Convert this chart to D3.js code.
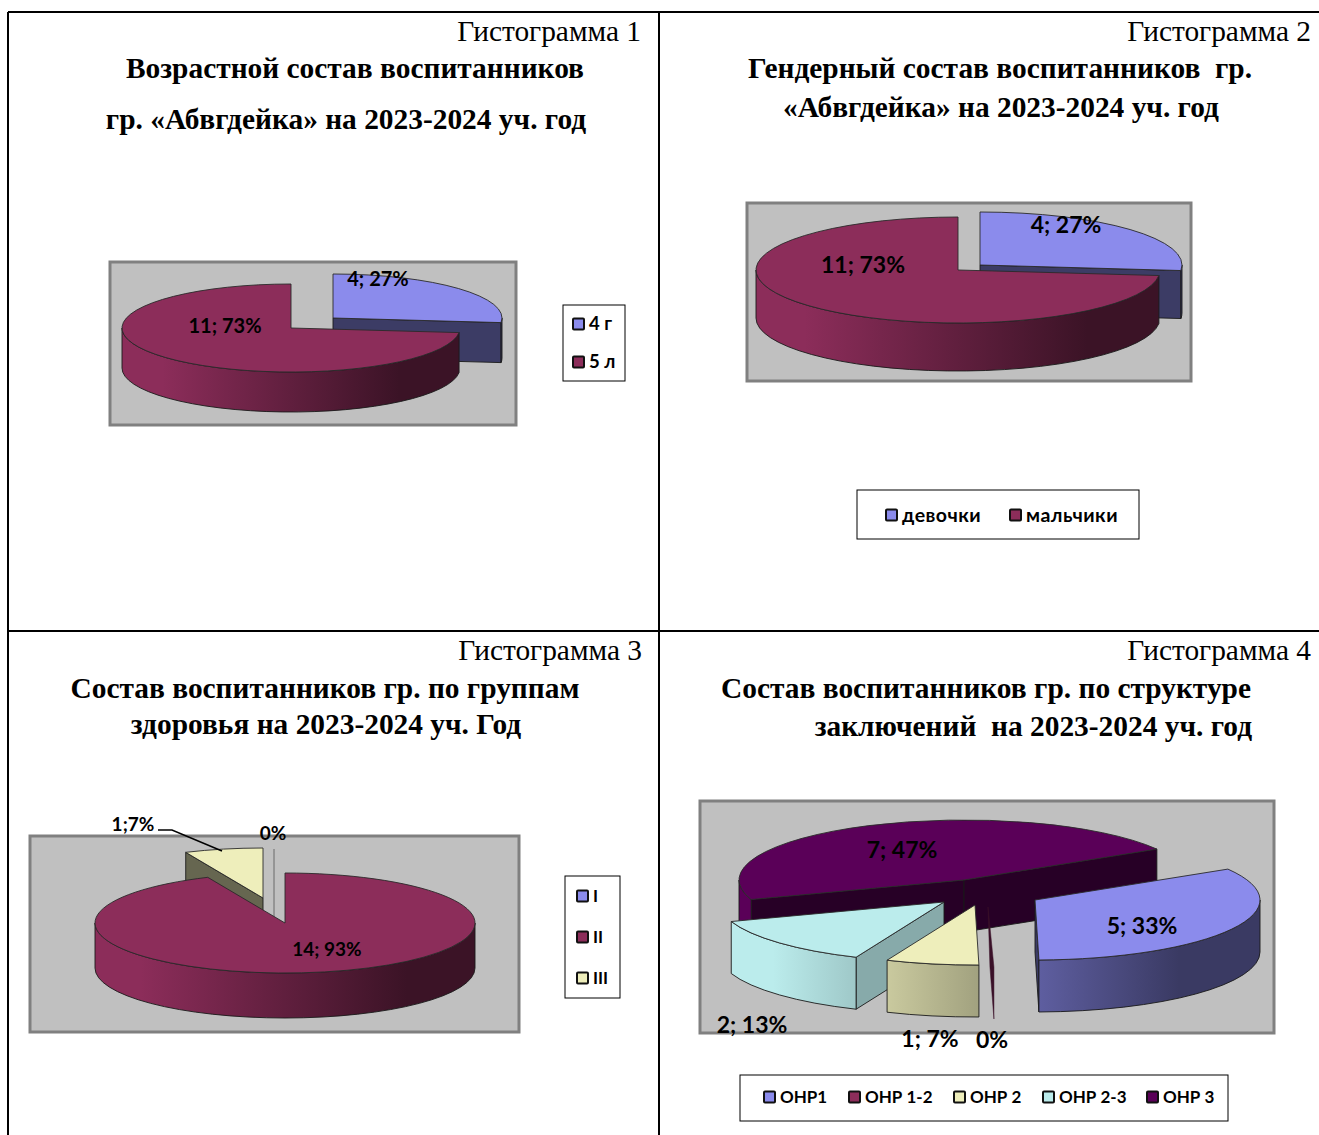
<!DOCTYPE html>
<html><head><meta charset="utf-8">
<script src="https://cdn.jsdelivr.net/npm/d3@7"></script>
<style>html,body{margin:0;padding:0;background:#fff;overflow:hidden}svg{display:block}
text{white-space:pre}</style></head><body><svg id="c" width="1319" height="1135"></svg>
<script>
// ---- data ----
const ageCategories = ["4 г", "5 л"];
const ageValues = [4, 11];
const genderCategories = ["девочки", "мальчики"];
const genderValues = [4, 11];
const healthCategories = ["I", "II", "III"];
const healthValues = [0, 14, 1];
const speechCategories = ["ОНР1", "ОНР 1-2", "ОНР 2", "ОНР 2-3", "ОНР 3"];
const speechValues = [5, 0, 1, 2, 7];
const seriesColors = ["#8b8bec", "#8c2d5a", "#eeeebb", "#bbecec", "#5a0058"];
const healthColors = ["#8b8bec", "#8c2d5a", "#eeeebb"];

// ---- layout ----
const charts = [
 {id:"a", cats:ageCategories, vals:ageValues, colors:seriesColors, rot:0,
  head:"Гистограмма 1", headX:641, headY:41,
  titles:[["Возрастной состав воспитанников",355,78,"middle"],["гр. «Абвгдейка» на 2023-2024 уч. год",346,129,"middle"]],
  box:[110,262,516,425], cx:291, cy:328, rx:169, ry:44, depth:40,
  offs:[[42,-10],[0,0]], order:[0,1],
  labelSize:20, labels:[[378,279],[225,326]], seps:["; ","; "],
  legend:{box:[563,305,625,381], size:18.5, spacing:0, items:[[573,324],[573,362]]}},
 {id:"b", cats:genderCategories, vals:genderValues, colors:seriesColors, rot:0,
  head:"Гистограмма 2", headX:1311, headY:41,
  titles:[["Гендерный состав воспитанников  гр.",1000,78,"middle"],["«Абвгдейка» на 2023-2024 уч. год",1001,117,"middle"]],
  box:[747,203,1191,381], cx:958, cy:270, rx:202, ry:53, depth:48,
  offs:[[22,-5],[0,0]], order:[0,1],
  labelSize:23, labels:[[1066,225],[863,265]], seps:["; ","; "],
  legend:{box:[857,490,1139,539], size:19.5, spacing:0.45, items:[[886,515],[1010,515]]}},
 {id:"c", cats:healthCategories, vals:healthValues, colors:healthColors, rot:0,
  head:"Гистограмма 3", headX:642, headY:660,
  titles:[["Состав воспитанников гр. по группам",325,698,"middle"],["здоровья на 2023-2024 уч. Год",326,734,"middle"]],
  box:[30,836,519,1032], cx:285, cy:923, rx:190, ry:50, depth:45,
  offs:[[-11,-24],[0,0],[-22,-25]], order:[0,2,1],
  labelSize:19, labels:[[273,833],[327,949],[133,824]], seps:["","; ",";"],
  leader:{label:2, pts:[[158,830],[172,830],[222,851]]}, zero:{color:"#8a8a8a", width:1.6, top:true},
  legend:{box:[565,876,620,998], size:17, spacing:0, items:[[577,896],[577,937],[577,978]]}},
 {id:"d", cats:speechCategories, vals:speechValues, colors:seriesColors, rot:59,
  head:"Гистограмма 4", headX:1311, headY:660,
  titles:[["Состав воспитанников гр. по структуре",1251,698,"end"],["заключений  на 2023-2024 уч. год",1252,736,"end"]],
  box:[700,801,1274,1033], cx:964, cy:880, rx:225, ry:60, depth:52,
  offs:[[71,20],[24,27],[11,25],[-20,22],[0,0]], order:[4,3,2,1,0],
  faceShade:{3:0.72},
  labelSize:23, labels:[[1142,926],[992,1040],[930,1039],[752,1025],[902,850]], seps:["; ","","; ","; ","; "],
  zero:{color:"#3a1028", width:4, top:false},
  legend:{box:[740,1075,1228,1121], size:17, spacing:0, items:[[764,1097],[849,1097],[954,1097],[1043,1097],[1147,1097]]}}
];

const svg = d3.select("#c");
const defs = svg.append("defs");
const serif = "'Liberation Serif','Times New Roman',serif";
const sans = "Lato,'Open Sans',sans-serif";
const TAU = Math.PI*2, H = Math.PI/2;
const shade = (c,k)=>{const r=d3.rgb(c);return d3.rgb(r.r*k,r.g*k,r.b*k).formatHex();};

// page table
const grid = [[8,12,1319,12],[8,631,1319,631],[8,12,8,1135],[659,12,659,1135]];
svg.selectAll("line.grid").data(grid).join("line").attr("class","grid")
  .attr("x1",d=>d[0]).attr("y1",d=>d[1]).attr("x2",d=>d[2]).attr("y2",d=>d[3])
  .attr("stroke","#000").attr("stroke-width",2);

charts.forEach(ch=>{
  const g = svg.append("g").attr("id","chart-"+ch.id);
  g.append("text").text(ch.head).attr("x",ch.headX).attr("y",ch.headY)
    .attr("text-anchor","end").attr("font-family",serif).attr("font-size",29.4).attr("fill","#000");
  ch.titles.forEach(t=>g.append("text").text(t[0]).attr("x",t[1]).attr("y",t[2]).attr("text-anchor",t[3])
    .attr("font-family",serif).attr("font-weight","bold").attr("font-size",29.4).attr("fill","#000"));
  const b = ch.box;
  g.append("rect").attr("x",b[0]).attr("y",b[1]).attr("width",b[2]-b[0]).attr("height",b[3]-b[1])
    .attr("fill","#c0c0c0").attr("stroke","#808080").attr("stroke-width",3);

  const start = ch.rot*Math.PI/180;
  const arcs = d3.pie().sort(null).startAngle(start).endAngle(start+TAU)(ch.vals);
  const sum = d3.sum(ch.vals);
  const sx = d3.scaleLinear().domain([-1,1]).range([-ch.rx,ch.rx]);
  const sy = d3.scaleLinear().domain([-1,1]).range([ch.ry,-ch.ry]);

  ch.order.forEach(i=>{
    const a = arcs[i], col = ch.colors[i], [dx,dy] = ch.offs[i];
    const ax = ch.cx+dx, ay = ch.cy+dy;
    const P = t=>[ax+sx(Math.sin(t)), ay+sy(Math.cos(t))];
    const d = ch.depth;
    const sl = g.append("g").attr("class","slice");
    if (a.value===0){
      const rim = P(a.startAngle);
      const z = ch.zero;
      if (z.top){
        sl.append("line").attr("x1",rim[0]).attr("y1",rim[1]).attr("x2",ax).attr("y2",ay+d)
          .attr("stroke",z.color).attr("stroke-width",z.width);
      } else {
        sl.append("path").attr("d",`M${ax},${ay}L${rim[0]+z.width/2},${rim[1]}L${rim[0]+2},${rim[1]+d}L${rim[0]-z.width/2},${rim[1]}Z`)
          .attr("fill",z.color).attr("stroke",z.color).attr("stroke-width",.5);
      }
      return;
    }
    const faceK = (ch.faceShade&&ch.faceShade[i])||0.43;
    const faceCol = shade(col,faceK);
    const faces = [];
    if (Math.sin(a.startAngle)<-1e-6) faces.push(a.startAngle);
    if (Math.sin(a.endAngle)>1e-6) faces.push(a.endAngle);
    faces.forEach(t=>{
      const p = P(t);
      sl.append("path").attr("d",`M${ax},${ay}L${p[0]},${p[1]}L${p[0]},${p[1]+d}L${ax},${ay+d}Z`)
        .attr("fill",faceCol).attr("stroke","#1a1a1a").attr("stroke-width",.9).attr("stroke-linejoin","round");
    });
    // outer wall: only what faces the viewer
    const gid = `g-${ch.id}-${i}`;
    const gr = defs.append("linearGradient").attr("id",gid).attr("gradientUnits","userSpaceOnUse")
      .attr("x1",ax-ch.rx).attr("x2",ax+ch.rx).attr("y1",0).attr("y2",0);
    [[0,1],[0.12,1],[0.82,0.42],[1,0.42]].forEach(s=>gr.append("stop").attr("offset",s[0]).attr("stop-color",shade(col,s[1])));
    [[H,3*H],[H+TAU,3*H+TAU]].forEach(w=>{
      const t0 = Math.max(a.startAngle,w[0]), t1 = Math.min(a.endAngle,w[1]);
      if (t1<=t0) return;
      const p0=P(t0), p1=P(t1);
      sl.append("path").attr("d",`M${p0[0]},${p0[1]}A${ch.rx},${ch.ry} 0 0 1 ${p1[0]},${p1[1]}L${p1[0]},${p1[1]+d}A${ch.rx},${ch.ry} 0 0 0 ${p0[0]},${p0[1]+d}Z`)
        .attr("fill",`url(#${gid})`).attr("stroke","#1a1a1a").attr("stroke-width",.9);
    });
    const s0=P(a.startAngle), s1=P(a.endAngle);
    const large = a.endAngle-a.startAngle>Math.PI?1:0;
    sl.append("path").attr("d",`M${ax},${ay}L${s0[0]},${s0[1]}A${ch.rx},${ch.ry} 0 ${large} 1 ${s1[0]},${s1[1]}Z`)
      .attr("fill",col).attr("stroke","#2a2a2a").attr("stroke-width",.9).attr("stroke-linejoin","round");
  });

  if (ch.leader){
    g.append("path").attr("d",d3.line()(ch.leader.pts)).attr("fill","none").attr("stroke","#000").attr("stroke-width",1.5);
  }
  ch.vals.forEach((v,i)=>{
    const pct = Math.round(v/sum*100)+"%";
    g.append("text").text(v===0?pct:v+ch.seps[i]+pct)
      .attr("x",ch.labels[i][0]).attr("y",ch.labels[i][1]).attr("dy","0.35em").attr("text-anchor","middle")
      .attr("font-family",sans).attr("font-weight","bold").attr("font-size",ch.labelSize).attr("fill","#000");
  });

  const L = ch.legend, lb = L.box;
  g.append("rect").attr("x",lb[0]).attr("y",lb[1]).attr("width",lb[2]-lb[0]).attr("height",lb[3]-lb[1])
    .attr("fill","#fff").attr("stroke","#000").attr("stroke-width",1);
  ch.cats.forEach((c,i)=>{
    const [x,y] = L.items[i];
    g.append("rect").attr("x",x).attr("y",y-5.5).attr("width",11).attr("height",11).attr("rx",1)
      .attr("fill",ch.colors[i]).attr("stroke","#111").attr("stroke-width",2);
    g.append("text").text(c).attr("x",x+16).attr("y",y).attr("dy","0.35em").attr("letter-spacing",L.spacing)
      .attr("font-family",sans).attr("font-weight","bold").attr("font-size",L.size).attr("fill","#000");
  });
});
</script></body></html>
